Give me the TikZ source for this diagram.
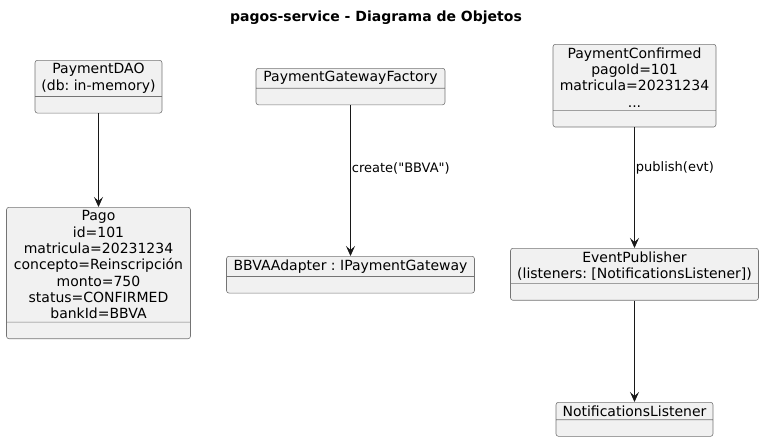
\documentclass[tikz,border=0pt]{standalone}
\usepackage{fontspec}
\setmainfont{DejaVu Sans}[Ligatures=TeXOff]
\usetikzlibrary{shapes.multipart,arrows.meta}
\definecolor{objfill}{HTML}{F1F1F1}
\definecolor{objline}{HTML}{181818}
\frenchspacing
\begin{document}
\begin{tikzpicture}[x=1pt, y=-1pt, line join=round,
	obj/.style={rectangle split, rectangle split parts=2, rectangle split empty part height=10pt,
		draw=objline!60, line width=0.6pt, fill=objfill, rounded corners=2.5pt, align=center,
		inner ysep=3pt, anchor=north, font=\fontsize{14}{16.3}\selectfont},
	rel/.style={-{Stealth[length=10pt,width=9pt,inset=4pt]}, line width=0.9pt, draw=objline},
	lbl/.style={anchor=west, inner sep=1pt, font=\fontsize{13}{15}\selectfont}]
	\useasboundingbox (0,0) rectangle (764,442);
	\node[font=\fontsize{14}{16}\selectfont\bfseries] (title) at (376,18) {pagos-service - Diagrama de Objetos};

	% objetos
	\node[obj, minimum width=127pt] (dao) at (98.5,60) {PaymentDAO\\(db: in-memory)};
	\node[obj, minimum width=189pt] (factory) at (350.5,68) {PaymentGatewayFactory};
	\node[obj, minimum width=163pt] (confirmed) at (634.5,44) {PaymentConfirmed\\pagoId=101\\matricula=20231234\\...};
	\node[obj, minimum width=184pt] (pago) at (98.5,207) {Pago\\id=101\\matricula=20231234\\concepto=Reinscripción\\monto=750\\status=CONFIRMED\\bankId=BBVA};
	\node[obj, minimum width=248pt] (adapter) at (350.5,256) {BBVAAdapter : IPaymentGateway};
	\node[obj, minimum width=248pt] (publisher) at (634.5,248) {EventPublisher\\(listeners: [NotificationsListener])};
	\node[obj, minimum width=157pt] (listener) at (634.5,402) {NotificationsListener};

	% relaciones
	\draw[rel] (dao.south) -- (pago.north);
	\draw[rel] (factory.south) -- node[lbl, pos=0.42] (lblcreate) {create("BBVA")} (adapter.north);
	\draw[rel] (confirmed.south) -- node[lbl, pos=0.34] (lblpublish) {publish(evt)} (publisher.north);
	\draw[rel] (publisher.south) -- (listener.north);
\end{tikzpicture}
\end{document}
